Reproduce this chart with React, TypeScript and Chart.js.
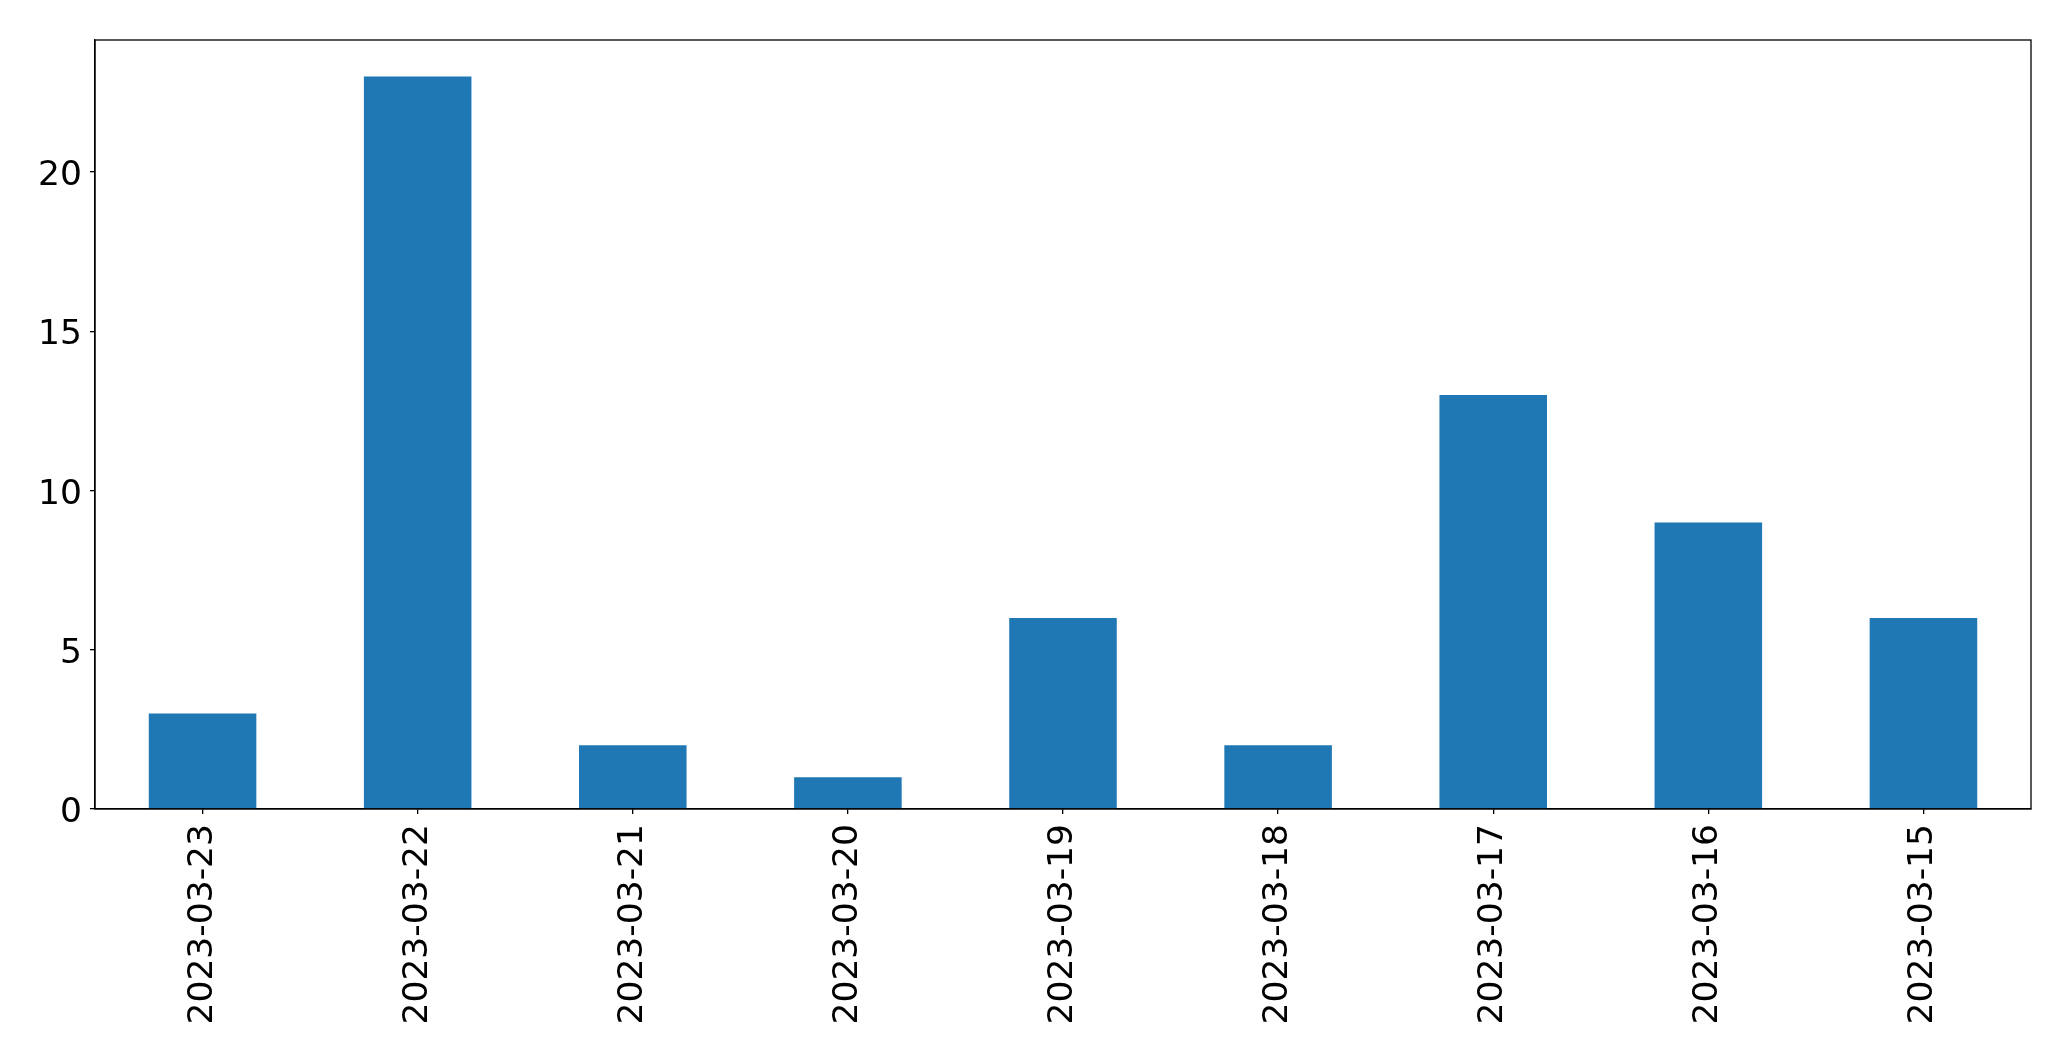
import React, { useEffect, useRef } from "react";
import { Chart, registerables } from "chart.js";

Chart.register(...registerables);

const categories = [
  "2023-03-23",
  "2023-03-22",
  "2023-03-21",
  "2023-03-20",
  "2023-03-19",
  "2023-03-18",
  "2023-03-17",
  "2023-03-16",
  "2023-03-15",
];
const counts = [3, 23, 2, 1, 6, 2, 13, 9, 6];
const yTicks = [0, 5, 10, 15, 20];
const yMax = 24.15;

const FONT = "'DejaVu Sans', sans-serif";

const frame = {
  id: "frame",
  afterDatasetsDraw(chart: any) {
    const { ctx, chartArea } = chart;
    ctx.save();
    ctx.strokeStyle = "#000";
    ctx.lineWidth = 1.3;
    ctx.strokeRect(chartArea.left, chartArea.top, chartArea.right - chartArea.left, chartArea.bottom - chartArea.top);
    ctx.restore();
  },
};

export default function App() {
  const ref = useRef<HTMLCanvasElement | null>(null);
  useEffect(() => {
    if (!ref.current) return;
    const chart = new Chart(ref.current, {
      type: "bar",
      data: {
        labels: categories,
        datasets: [
          {
            data: counts,
            backgroundColor: "#1f77b4",
            barPercentage: 0.5,
            categoryPercentage: 1,
          },
        ],
      },
      options: {
        animation: false,
        responsive: false,
        maintainAspectRatio: false,
        layout: { padding: { top: 40, right: 40, left: 0, bottom: 0 } },
        plugins: { legend: { display: false }, tooltip: { enabled: false } },
        scales: {
          x: {
            offset: true,
            grid: { display: true, drawOnChartArea: false, offset: false, tickLength: 5, color: "#000", lineWidth: 1.3 },
            border: { color: "#000", width: 1.3 },
            ticks: {
              font: { family: FONT, size: 34.5 },
              color: "#000",
              minRotation: 90,
              maxRotation: 90,
              padding: 10,
              autoSkip: false,
            },
            afterFit: (s: any) => {
              s.height = 252;
            },
          },
          y: {
            min: 0,
            max: yMax,
            grid: { display: true, drawOnChartArea: false, tickLength: 5, color: "#000", lineWidth: 1.3 },
            border: { color: "#000", width: 1.3 },
            ticks: {
              font: { family: FONT, size: 34.5 },
              color: "#000",
              padding: 8,
              labelOffset: 4,
            },
            afterBuildTicks: (s: any) => {
              s.ticks = yTicks.map((v) => ({ value: v }));
            },
            afterFit: (s: any) => {
              s.width = 95;
            },
          },
        },
      },
      plugins: [frame],
    });
    return () => chart.destroy();
  }, []);
  return (
    <div style={{ position: "fixed", left: 0, top: 0, width: 2071, height: 1061, background: "#fff" }}>
      <canvas ref={ref} width={2071} height={1061} style={{ width: 2071, height: 1061 }} />
    </div>
  );
}
